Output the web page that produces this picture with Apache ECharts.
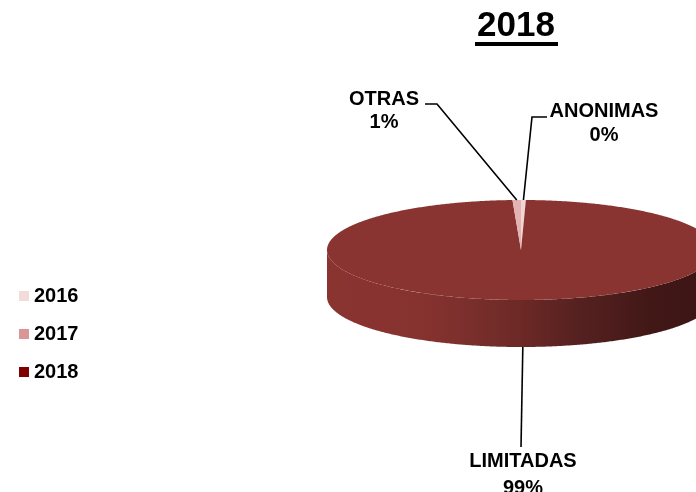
<!DOCTYPE html>
<html><head><meta charset="utf-8">
<script src="https://cdn.jsdelivr.net/npm/echarts@6/dist/echarts.min.js"></script>
<style>html,body{margin:0;padding:0;background:#fff}#c{width:696px;height:492px}</style>
</head><body><div id="c"></div>
<script>
// ---- data ----
const titleText = '2018';
const categories = ['ANONIMAS', 'LIMITADAS', 'OTRAS'];
const values = [0.4, 98.9, 0.7];
const legendLabels = ['2016', '2017', '2018'];
const legendColors = ['#f2dcdb', '#d99694', '#7f0000'];
const sliceColors = ['#f2d6d5', '#8a3431', '#e4b2b1'];

// ---- layout / style (not data) ----
const FONT = '"Liberation Sans", Arial, sans-serif';
const cx = 521, cy = 250, rx = 194, ry = 50, depth = 47;
const labelLayout = {
  OTRAS:     { path: [[-84, -146], [-96, -146]], text: [-137, -162], lh: 23 },
  ANONIMAS:  { path: [[11, -133], [26, -133]],   text: [83, -151], lh: 24 },
  LIMITADAS: { path: [[0, 197]],                 text: [2, 198], lh: 27 }
};
const sideStops = [
  { offset: 0, color: '#8a3430' },
  { offset: 0.24, color: '#86322f' },
  { offset: 0.37, color: '#7a2f2c' },
  { offset: 0.5, color: '#6c2926' },
  { offset: 0.65, color: '#552120' },
  { offset: 0.83, color: '#421817' },
  { offset: 1, color: '#3a1513' }
];

const total = values.reduce((a, b) => a + b, 0);
const starts = [];
{ let acc = 0; values.forEach(v => { starts.push(acc / total * 2 * Math.PI); acc += v; }); }

function pt(t, dy) { return [cx + rx * Math.sin(t), cy - ry * Math.cos(t) + dy]; }
function arc(a, b, dy) {
  const n = Math.max(2, Math.ceil(Math.abs(b - a) / (Math.PI / 360)));
  const out = [];
  for (let k = 0; k <= n; k++) out.push(pt(a + (b - a) * k / n, dy));
  return out;
}

function renderItem(params, api) {
  const i = params.dataIndex;
  const v = api.value(0);
  const a0 = starts[i], a1 = a0 + v / total * 2 * Math.PI;
  const children = [];
  const s = Math.max(a0, Math.PI / 2), e = Math.min(a1, 3 * Math.PI / 2);
  if (e > s) {
    children.push({
      type: 'polygon', z2: 1,
      shape: { points: arc(s, e, 0).concat(arc(e, s, depth)) },
      style: { fill: { type: 'linear', x: cx - rx, y: 0, x2: cx + rx, y2: 0, global: true, colorStops: sideStops } }
    });
  }
  children.push({
    type: 'polygon', z2: 2,
    shape: { points: [[cx, cy]].concat(arc(a0, a1, 0)) },
    style: { fill: sliceColors[i] }
  });
  const name = categories[i];
  const lay = labelLayout[name];
  if (lay) {
    const mid = (a0 + a1) / 2;
    const front = Math.cos(mid) < 0;
    const start = pt(mid, front ? depth : 0);
    const pts = [start].concat(lay.path.map(p => [cx + p[0], cy + p[1]]));
    children.push({ type: 'polyline', z2: 3, shape: { points: pts }, style: { stroke: '#000', lineWidth: 1.6, fill: null } });
    children.push({
      type: 'text', z2: 4,
      style: {
        text: name + '\n' + Math.round(v / total * 100) + '%',
        x: cx + lay.text[0], y: cy + lay.text[1],
        align: 'center', verticalAlign: 'top', lineHeight: lay.lh,
        fontSize: 20, fontWeight: 'bold', fontFamily: FONT, fill: '#000'
      }
    });
  }
  return { type: 'group', children };
}

const chart = echarts.init(document.getElementById('c'), null, { renderer: 'canvas' });
const series = [{
  type: 'custom', name: 'Sociedades', coordinateSystem: 'none', renderItem,
  data: values.map((v, i) => ({ name: categories[i], value: v }))
}].concat(legendLabels.map((l, i) => ({
  type: 'custom', name: l, coordinateSystem: 'none', renderItem: () => null, data: [],
  itemStyle: { color: legendColors[i] }
})));

chart.setOption({
  animation: false,
  backgroundColor: '#fff',
  title: {
    text: titleText, left: 516, top: 9, textAlign: 'center', padding: 0,
    textStyle: { fontSize: 35, fontWeight: 'bold', fontFamily: FONT, color: '#000', lineHeight: 35 }
  },
  graphic: [{ type: 'rect', shape: { x: 475, y: 42, width: 83, height: 4 }, style: { fill: '#000' } }],
  legend: {
    data: legendLabels, orient: 'vertical', left: 19, top: 286, padding: 0,
    itemWidth: 10, itemHeight: 10, itemGap: 18, icon: 'rect', selectedMode: false,
    textStyle: { fontSize: 20, fontWeight: 'bold', fontFamily: FONT, color: '#000', lineHeight: 20 }
  },
  series
});
</script></body></html>
